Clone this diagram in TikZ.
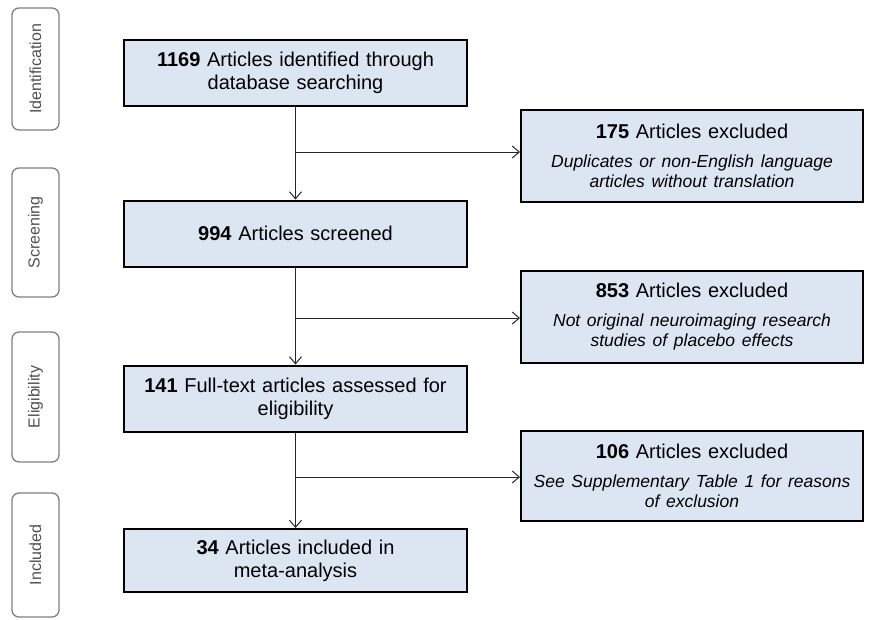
\documentclass[tikz,border=0pt]{standalone}
\usepackage{fontspec}
\setmainfont{Liberation Sans}
\usetikzlibrary{arrows.meta}
\definecolor{boxblue}{HTML}{DCE6F2}
\definecolor{stagegray}{HTML}{808080}
\definecolor{stagetext}{HTML}{505050}
% Italic reason text inside exclusion boxes
\newcommand{\whyfont}{\fontsize{17.5}{20}\selectfont\itshape}

\begin{document}
\begin{tikzpicture}[
    x=1pt, y=-1pt,
    font=\fontsize{20}{23}\selectfont,
    % All flow boxes share the same width for a clean column
    box/.style={draw=black, line width=2pt, fill=boxblue,
                minimum width=343pt, minimum height=66pt,
                text width=333pt, align=center, inner sep=2pt},
    mainbox/.style={box},
    exbox/.style={box, minimum width=342pt, minimum height=92pt},
    % Stage tabs on the left
    stage/.style={draw=stagegray, line width=1.3pt, rounded corners=7pt,
                  rotate=90, minimum height=47pt, inner sep=0pt,
                  text=stagetext, font=\fontsize{16}{18}\selectfont},
    % Arrows
    arr/.style={-{Straight Barb[length=7pt,width=12pt]}, line width=1pt, draw=black!85},
]

% Canvas = 870 x 619, one unit = one pixel, y grows downwards
% main column centre x = 295.5, exclusion column centre x = 692
\useasboundingbox (0,0) rectangle (870,619);

%% ── Stage tabs ──
\node[stage, minimum width=122pt] (sid)  at (35.5,  69.0) {Identification};
\node[stage, minimum width=129pt] (sscr) at (35.5, 232.5) {Screening};
\node[stage, minimum width=130pt] (seli) at (35.5, 397.0) {Eligibility};
\node[stage, minimum width=124pt] (sinc) at (35.5, 555.0) {Included};

%% ── Main column ──
\node[mainbox] (idf) at (295.5,  73.0) {\textbf{1169} Articles identified through\\database searching};
\node[mainbox] (scr) at (295.5, 233.5) {\textbf{994} Articles screened};
\node[mainbox] (ful) at (295.5, 398.5) {\textbf{141} Full-text articles assessed for\\eligibility};
\node[mainbox, minimum height=63pt] (inc) at (295.5, 560.5) {\textbf{34} Articles included in\\meta-analysis};

%% ── Exclusion column ──
\node[exbox] (ex1) at (692, 156.0) {\textbf{175} Articles excluded\\[9pt]
  {\whyfont Duplicates or non-English language\\articles without translation\par}};
\node[exbox] (ex2) at (692, 316.5) {\textbf{853} Articles excluded\\[9pt]
  {\whyfont Not original neuroimaging research\\studies of placebo effects\par}};
\node[exbox, minimum height=90pt] (ex3) at (692, 476.0) {\textbf{106} Articles excluded\\[9pt]
  {\whyfont See Supplementary Table 1 for reasons\\of exclusion\par}};

%% ── Branch points on the main line ──
\coordinate (j1) at (295.5, 152);
\coordinate (j2) at (295.5, 318);
\coordinate (j3) at (295.5, 477);

%% ── Vertical flow ──
\draw[arr] (idf.south) -- (scr.north);
\draw[arr] (scr.south) -- (ful.north);
\draw[arr] (ful.south) -- (inc.north);

%% ── Exclusions ──
\draw[arr] (j1) -- (j1 -| ex1.west);
\draw[arr] (j2) -- (j2 -| ex2.west);
\draw[arr] (j3) -- (j3 -| ex3.west);

\end{tikzpicture}
\end{document}
